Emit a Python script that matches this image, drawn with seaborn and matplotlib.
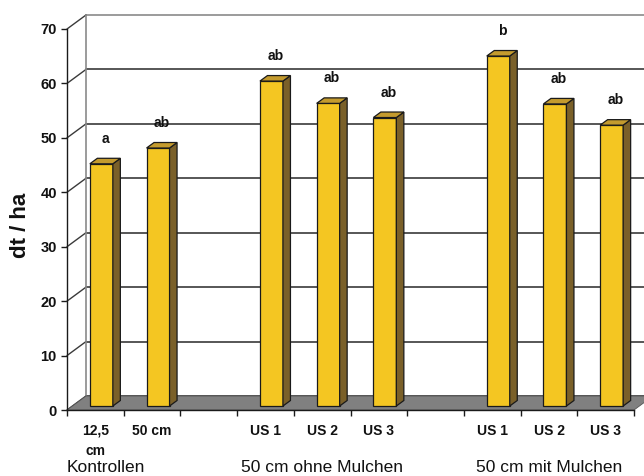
import numpy as np
import pandas as pd
import matplotlib
matplotlib.use("Agg")
import matplotlib.pyplot as plt
import seaborn as sns
from matplotlib.patches import Polygon
from matplotlib.transforms import blended_transform_factory

# ---------------- data ----------------
slots = ["k125", "k50", "gap1", "o1", "o2", "o3", "gap2", "m1", "m2", "m3"]
tick_labels = ["12,5\ncm", "50 cm", "", "US 1", "US 2", "US 3", "", "US 1", "US 2", "US 3"]
bar_slots = ["k125", "k50", "o1", "o2", "o3", "m1", "m2", "m3"]
values = [44.5, 47.4, 59.7, 55.6, 53.0, 64.3, 55.5, 51.6]
letters = ["a", "ab", "ab", "ab", "ab", "b", "ab", "ab"]
groups = ["Kontrollen", "50 cm ohne Mulchen", "50 cm mit Mulchen"]
yticks = [0, 10, 20, 30, 40, 50, 60, 70]
ylabel = "dt / ha"

# ---------------- style ----------------
sns.set_theme(style="white")
plt.rcParams['font.family'] = ['Liberation Sans', 'DejaVu Sans']

FRONT = "#F4C622"
TOP = "#C49B2E"
SIDE = "#7A6029"
FLOOR = "#808080"
EDGE = "#1a1a1a"
GRID = "#3a3a3a"
LIGHT = "#8a8a8a"

W, H = 644, 476
fig = plt.figure(figsize=(W / 100, H / 100), dpi=100)
L, R, B, T = 67, 634, 410, 29
ax = fig.add_axes([L / W, 1 - B / H, (R - L) / W, (B - T) / H])

n = len(slots)
ymax = yticks[-1]
ux = n / (R - L)          # data units per pixel (x)
uy = ymax / (B - T)       # data units per pixel (y)
Dx, Dy = 19 * ux, 14 * uy     # depth of the chart box
bx, by = 6 * ux, 4 * uy       # bar placement inside the depth
dx, dy = 7.5 * ux, 5.5 * uy   # depth of each bar

df = pd.DataFrame({"slot": bar_slots, "value": values})
sns.barplot(data=df, x="slot", y="value", order=slots, color=FRONT, saturation=1,
            width=23 / 56.7, edgecolor=EDGE, linewidth=0.9, errorbar=None,
            ax=ax, zorder=3)

ax.set_xlim(-0.5, n - 0.5)
ax.set_ylim(0, ymax)

# back wall gridlines + left wall
x0 = -0.5
for v in yticks:
    col = LIGHT if v == ymax else GRID
    ax.plot([x0 + Dx, n + 1], [v + Dy, v + Dy], color=col, lw=1.2, zorder=0.5, clip_on=False)
    ax.plot([x0, x0 + Dx], [v, v + Dy], color=GRID, lw=1.0, zorder=0.6, clip_on=False)
ax.plot([x0 + Dx, x0 + Dx], [Dy, ymax + Dy], color=LIGHT, lw=1.2, zorder=0.6, clip_on=False)

# floor
floor = Polygon([(x0, 0), (n - 0.5, 0), (n - 0.5 + Dx, Dy), (x0 + Dx, Dy)],
                closed=True, facecolor=FLOOR, edgecolor="#555555", lw=0.6,
                zorder=1, clip_on=False)
ax.add_patch(floor)

# 3D bars
bars = [p for p in ax.patches if p is not floor]
for p, lab in zip(bars, letters):
    h = p.get_height()
    if not np.isfinite(h) or h == 0:
        continue
    xl = p.get_x() + bx
    w = p.get_width()
    p.set_x(xl)
    p.set_y(by)
    p.set_height(h)
    xr = xl + w
    top = by + h
    side = Polygon([(xr, by), (xr + dx, by + dy), (xr + dx, top + dy), (xr, top)],
                   closed=True, facecolor=SIDE, edgecolor=EDGE, lw=0.9, zorder=3.1)
    topf = Polygon([(xl, top), (xr, top), (xr + dx, top + dy), (xl + dx, top + dy)],
                   closed=True, facecolor=TOP, edgecolor=EDGE, lw=0.9, zorder=3.2)
    ax.add_patch(side)
    ax.add_patch(topf)
    ax.text(xl + w / 2 + dx / 2, top + 21 * uy, lab, ha="center", va="baseline",
            fontsize=10, fontweight="bold", color="#111111", zorder=5)

# axes lines and ticks
for s in ["top", "right"]:
    ax.spines[s].set_visible(False)
for s in ["left", "bottom"]:
    ax.spines[s].set_color(EDGE)
    ax.spines[s].set_linewidth(1.0)
    ax.spines[s].set_zorder(4)
ax.set_facecolor("none")

ax.set_yticks(yticks)
ax.set_yticklabels([str(v) for v in yticks], fontweight="bold")
ax.tick_params(axis="y", left=True, direction="out", length=4.3, width=1.0,
               pad=3, labelsize=10.5, color=EDGE, labelcolor="#111111")

ax.set_xticks(np.arange(-0.5, n, 1.0))
ax.set_xticklabels([])
ax.tick_params(axis="x", which="major", bottom=True, direction="out", length=4.3,
               width=1.0, color=EDGE)
lab_idx = [i for i, t in enumerate(tick_labels) if t]
ax.set_xticks(lab_idx, minor=True)
ax.set_xticklabels([tick_labels[i] for i in lab_idx], minor=True, fontweight="bold",
                   linespacing=1.55)
ax.tick_params(axis="x", which="minor", bottom=True, length=0, pad=10, labelsize=10,
               labelcolor="#111111")
ax.set_xlabel("")
ax.set_ylabel("")
ax.grid(False)

# group labels
tr = blended_transform_factory(ax.transData, fig.transFigure)
gy = 1 - 467 / H
ax.text(x0, gy, groups[0], transform=tr, ha="left", va="center", fontsize=12.5, color="#111111")
ax.text(4, gy, groups[1], transform=tr, ha="center", va="center", fontsize=12.5, color="#111111")
ax.text(8, gy, groups[2], transform=tr, ha="center", va="center", fontsize=12.5, color="#111111")

# y label
fig.text(21 / W, 1 - 225 / H, ylabel, rotation=90, ha="center", va="center",
         fontsize=16, fontweight="bold", color="#111111")

fig.savefig("out.png", dpi=100)
